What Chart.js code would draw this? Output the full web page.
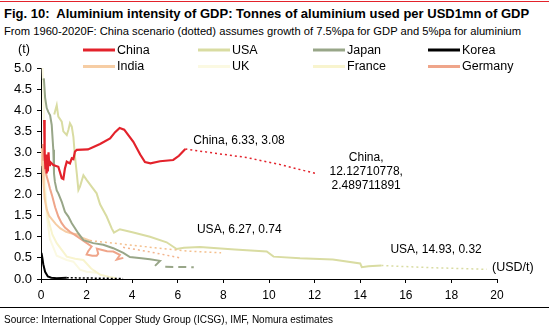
<!DOCTYPE html>
<html>
<head>
<meta charset="utf-8">
<script src="https://cdn.jsdelivr.net/npm/chart.js@4.4.1/dist/chart.umd.min.js"></script>
<style>
html,body{margin:0;padding:0;background:#fff;}
#wrap{position:relative;width:549px;height:332px;overflow:hidden;font-family:Arial,"Liberation Sans",sans-serif;color:#000;}
#topline{position:absolute;left:0;top:1px;width:549px;height:1px;background:#E3222B;}
#title{position:absolute;left:4px;top:6px;font-weight:bold;font-size:13px;white-space:nowrap;}
#sub{position:absolute;left:4px;top:25px;font-size:11.2px;white-space:nowrap;}
#botline{position:absolute;left:0;top:307px;width:549px;height:1px;background:#000;}
#source{position:absolute;left:4px;top:314px;font-size:10px;white-space:nowrap;}
#c{position:absolute;left:0;top:0;}
</style>
</head>
<body>
<div id="wrap">
  <div id="topline"></div>
  <div id="title">Fig. 10:&nbsp; Aluminium intensity of GDP: Tonnes of aluminium used per USD1mn of GDP</div>
  <div id="sub">From 1960-2020F: China scenario (dotted) assumes growth of 7.5%pa for GDP and 5%pa for aluminium</div>
  <canvas id="c" width="549" height="332"></canvas>
  <div id="botline"></div>
  <div id="source">Source: International Copper Study Group (ICSG), IMF, Nomura estimates</div>
</div>
<script>
// GDP (USD trn) vs aluminium use per USD1mn of GDP (t), one [x, y] pair per year
const china = [[0.14,3.77],[0.15,3.3],[0.17,2.95],[0.2,2.6],[0.22,2.95],[0.25,2.5],[0.28,2.9],[0.3,2.55],[0.33,3.0],[0.36,2.7],[0.39,2.78],[0.54,2.7],[0.76,2.66],[0.91,2.39],[0.98,2.37],[1.05,2.62],[1.13,2.78],[1.27,2.74],[1.35,2.86],[1.42,2.84],[1.49,3.02],[1.57,3.06],[2.06,3.07],[2.3,3.13],[2.59,3.2],[3.03,3.33],[3.25,3.48],[3.45,3.58],[3.65,3.54],[4.05,3.25],[4.35,2.95],[4.56,2.77],[4.8,2.74],[5.22,2.79],[5.8,2.82],[6.05,2.92],[6.33,3.08]];
const chinaScenario = [[6.33,3.08],[7.5,2.99],[9.0,2.88],[10.5,2.71],[12.12710778,2.489711891]];
const usa = [[0.58,3.9],[0.69,4.12],[0.76,3.85],[0.91,3.73],[0.98,3.5],[1.13,3.41],[1.2,3.53],[1.27,3.69],[1.35,3.61],[1.42,3.37],[1.49,2.9],[1.57,2.5],[1.64,2.11],[1.71,2.19],[1.86,2.46],[2.0,2.35],[2.22,2.19],[2.44,2.03],[2.59,1.77],[2.88,1.48],[3.1,1.2],[3.2,1.1],[3.46,1.18],[4.05,1.1],[4.78,1.0],[5.51,0.87],[5.95,0.71],[6.27,0.74],[6.97,0.76],[8.5,0.7],[9.9,0.65],[10.2,0.53],[11.36,0.49],[12.8,0.46],[14.0,0.37],[14.07,0.28],[14.36,0.3],[14.93,0.32]];
const usaTrend = [[14.93,0.32],[17.0,0.27],[19.55,0.23]];
const japan = [[0.1,4.75],[0.13,4.72],[0.18,4.3],[0.25,4.05],[0.32,3.96],[0.4,3.88],[0.47,3.65],[0.54,3.06],[0.57,2.5],[0.61,2.3],[0.69,2.1],[0.76,2.03],[0.91,1.83],[1.05,1.59],[1.2,1.48],[1.35,1.32],[1.64,1.08],[1.86,0.92],[2.29,0.85],[2.73,0.81],[3.17,0.73],[3.61,0.62],[3.9,0.52],[4.4,0.49],[4.78,0.47],[5.22,0.43],[5.0,0.31]];
const japanTrend = [[5.45,0.29],[6.7,0.28]];
const korea = [[0.02,0.62],[0.06,0.5],[0.1,0.35],[0.18,0.17],[0.3,0.06],[0.45,0.03],[0.69,0.02],[1.13,0.03]];
const koreaTrend = [[1.13,0.03],[3.6,0.01]];
const india = [[0.04,3.1],[0.05,2.7],[0.07,3.0],[0.09,2.5],[0.11,2.7],[0.13,2.2],[0.16,1.9],[0.25,1.65],[0.35,1.5],[0.5,1.4],[0.65,1.3],[0.85,1.2],[1.1,1.12],[1.35,1.08],[1.57,1.06],[1.8,0.98],[2.15,0.91]];
const indiaTrend = [[2.15,0.91],[3.5,0.83],[5.0,0.74],[6.5,0.66],[7.9,0.62]];
const uk = [[0.07,5.0],[0.1,4.5],[0.13,3.8],[0.16,3.0],[0.19,2.2],[0.25,1.5],[0.39,0.95],[0.69,0.55],[1.13,0.45],[1.42,0.41],[1.71,0.22],[2.0,0.17],[2.44,0.15]];
const france = [[0.05,2.9],[0.08,2.5],[0.1,2.35],[0.3,1.45],[0.5,1.05],[0.69,0.85],[1.13,0.53],[1.5,0.48],[1.86,0.45],[2.2,0.25],[2.6,0.1],[3.0,0.05],[3.3,0.02]];
const germany = [[0.08,3.2],[0.1,2.8],[0.14,3.05],[0.18,2.6],[0.24,2.45],[0.32,2.3],[0.39,2.15],[0.5,1.95],[0.62,1.7],[0.76,1.48],[0.9,1.33],[1.05,1.22],[1.27,1.12],[1.5,1.04],[1.71,0.96],[1.93,0.88],[2.22,0.77],[2.07,0.66],[2.0,0.58],[2.25,0.55],[2.44,0.55],[2.51,0.6],[2.45,0.72],[2.6,0.7],[2.9,0.66],[3.17,0.65],[3.46,0.57],[3.32,0.46],[3.61,0.5]];
const germanyTrend = [[3.6,0.75],[4.8,0.64],[6.1,0.5]];

const xTicks = [0,2,4,6,8,10,12,14,16,18,20];
const yTicks = [0,0.5,1,1.5,2,2.5,3,3.5,4,4.5,5];

const pts = a => a.map(([x,y]) => ({x, y}));
const solid = (label, data, color, width) => ({label, data: pts(data), borderColor: color, backgroundColor: color, borderWidth: width, showLine: true, pointRadius: 0, tension: 0});
const dotted = (data, color, width, dash) => ({label: '', data: pts(data), borderColor: color, borderWidth: width, borderDash: dash, showLine: true, pointRadius: 0, tension: 0});

const COL = {china:'#E3222B', usa:'#D9DCA2', japan:'#98A688', korea:'#000000', india:'#F6CDA4', uk:'#FBF9E2', france:'#F8F4CE', germany:'#EFA58A'};

const datasets = [
  solid('China', china, COL.china, 2.2),
  dotted(chinaScenario, COL.china, 1.5, [2,3]),
  solid('Korea', korea, COL.korea, 2),
  dotted(koreaTrend, COL.korea, 1.5, [2,2]),
  solid('Japan', japan, COL.japan, 2),
  dotted(japanTrend, COL.japan, 2, [8,5]),
  solid('Germany', germany, COL.germany, 2),
  dotted(germanyTrend, '#F2B48E', 1.5, [2,3]),
  solid('India', india, COL.india, 2),
  dotted(indiaTrend, '#F4C08E', 1.5, [2,3]),
  solid('USA', usa, COL.usa, 2),
  dotted(usaTrend, COL.usa, 1.5, [2,3]),
  solid('France', france, COL.france, 2),
  solid('UK', uk, COL.uk, 2)
];

// legend layout: two rows of four
const legendRows = [['China','USA','Japan','Korea'],['India','UK','France','Germany']];

const legendPlugin = {
  id: 'gridLegend',
  afterDraw(chart) {
    const ctx = chart.ctx;
    ctx.save();
    ctx.font = '12.5px Arial, "Liberation Sans", sans-serif';
    ctx.textBaseline = 'middle';
    ctx.textAlign = 'left';
    legendRows.forEach((row, r) => {
      const y = 50 + r * 16.5;
      row.forEach((name, c) => {
        const ds = chart.data.datasets.find(d => d.label === name);
        const x0 = 83 + c * 115;
        ctx.strokeStyle = ds.borderColor;
        ctx.lineWidth = 3;
        ctx.setLineDash([]);
        ctx.beginPath();
        ctx.moveTo(x0, y);
        ctx.lineTo(x0 + 32, y);
        ctx.stroke();
        ctx.fillStyle = '#000';
        ctx.fillText(name, x0 + 34, y + 0.5);
      });
    });
    ctx.restore();
  }
};

// value labels at the ends of the China and USA paths
const callouts = [
  {pt: china[china.length-1], name: 'China', dx: 8, dy: -8, mode: 'inline'},
  {pt: chinaScenario[chinaScenario.length-1], name: 'China', dx: 12, dy: 0, mode: 'stack'},
  {pt: [6.27,0.74], name: 'USA', dx: 13, dy: -18, mode: 'inline'},
  {pt: usa[usa.length-1], name: 'USA', dx: 9, dy: -16, mode: 'inline'}
];

const calloutPlugin = {
  id: 'callouts',
  afterDatasetsDraw(chart) {
    const ctx = chart.ctx, xs = chart.scales.x, ys = chart.scales.y;
    ctx.save();
    ctx.font = '12px Arial, "Liberation Sans", sans-serif';
    ctx.fillStyle = '#000';
    ctx.textBaseline = 'middle';
    callouts.forEach(c => {
      const px = xs.getPixelForValue(c.pt[0]);
      const py = ys.getPixelForValue(c.pt[1]);
      if (c.mode === 'inline') {
        ctx.textAlign = 'left';
        ctx.fillText(c.name + ', ' + c.pt[0] + ', ' + c.pt[1], px + c.dx, py + c.dy);
      } else {
        const lines = [c.name + ',', c.pt[0] + ',', String(c.pt[1])];
        const w = Math.max(...lines.map(l => ctx.measureText(l).width));
        const cx = px + c.dx + w / 2;
        ctx.textAlign = 'center';
        lines.forEach((l, i) => ctx.fillText(l, cx, py + c.dy + (i - 1) * 14 - 2));
      }
    });
    // axis unit labels
    ctx.textAlign = 'left';
    ctx.font = '12.5px Arial, "Liberation Sans", sans-serif';
    ctx.fillText('(t)', 18, 50);
    ctx.fillText('(USD/t)', 492, ys.getPixelForValue(0) - 11);
    ctx.restore();
  }
};

new Chart(document.getElementById('c'), {
  type: 'scatter',
  data: {datasets},
  options: {
    responsive: false,
    animation: false,
    layout: {padding: {left: 0, top: 68, right: 52, bottom: 0}},
    plugins: {legend: {display: false}, tooltip: {enabled: false}},
    scales: {
      x: {
        type: 'linear', min: 0, max: 20,
        afterBuildTicks: s => { s.ticks = xTicks.map(v => ({value: v})); },
        ticks: {color: '#000', font: {size: 12, family: 'Arial'}, padding: 5, maxRotation: 0, autoSkip: false},
        grid: {drawOnChartArea: false, drawTicks: true, tickLength: 4, color: '#000', lineWidth: 1},
        border: {color: '#000', width: 1},
        afterFit: s => { s.height = 53; }
      },
      y: {
        type: 'linear', min: 0, max: 5,
        afterBuildTicks: s => { s.ticks = yTicks.map(v => ({value: v})); },
        ticks: {color: '#000', font: {size: 13, family: 'Arial'}, padding: 5, autoSkip: false, callback: v => Number(v).toFixed(1)},
        grid: {drawOnChartArea: false, drawTicks: true, tickLength: 4, color: '#000', lineWidth: 1},
        border: {color: '#000', width: 1},
        afterFit: s => { s.width = 41; }
      }
    }
  },
  plugins: [legendPlugin, calloutPlugin]
});
</script>
</body>
</html>
